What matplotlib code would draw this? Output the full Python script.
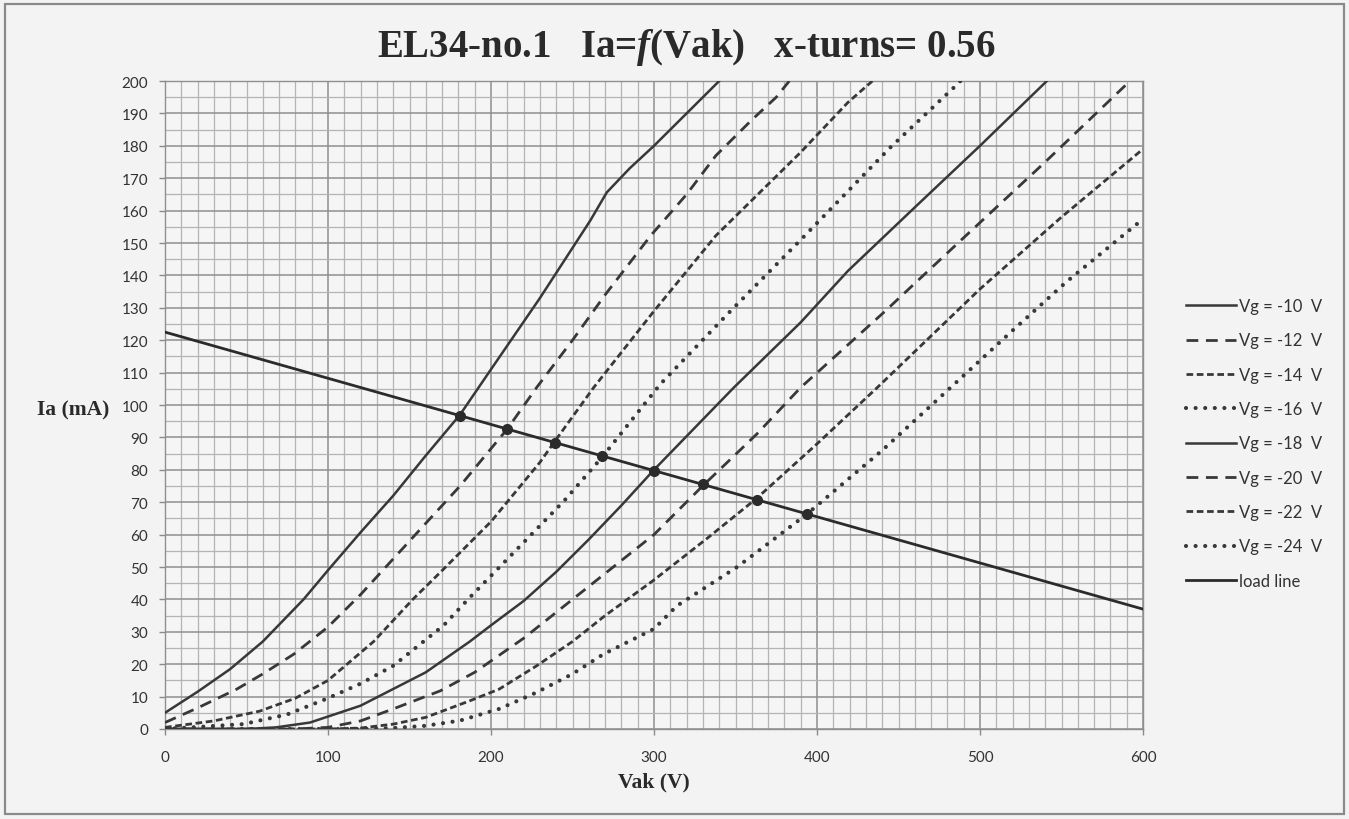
import matplotlib
matplotlib.use("Agg")
import matplotlib.pyplot as plt
from matplotlib.ticker import MultipleLocator
from matplotlib.patches import Rectangle

plt.rcParams['lines.scale_dashes'] = False
plt.rcParams['mathtext.fontset'] = 'custom'
plt.rcParams['mathtext.rm'] = 'Liberation Serif:weight=bold'
plt.rcParams['mathtext.it'] = 'Liberation Serif:style=italic:weight=bold'
plt.rcParams['mathtext.bf'] = 'Liberation Serif:weight=bold'

# Anode characteristics Ia = f(Vak) for each grid voltage
vg10_v = [0, 20, 40, 60, 85, 100, 120, 140, 160, 181, 200, 230, 261, 271, 285, 300, 320, 340]
vg10_i = [5, 11.5, 18.5, 27, 40, 49, 60.7, 72, 84.4, 97, 111, 133, 157, 165.6, 173, 180, 190, 200]

vg12_v = [0, 20, 44, 60, 79, 100, 120, 140, 160, 181, 195, 210, 228, 250, 270, 298, 320, 338, 360, 375, 383]
vg12_i = [2, 6.5, 12.3, 17, 23.1, 31.5, 41.5, 52.5, 63.5, 75, 83.5, 92.6, 105.4, 120, 134, 152.3, 165, 177, 188, 195, 200]

vg14_v = [0, 30, 58, 80, 100, 128, 152, 169, 200, 230, 239, 263, 300, 338, 390, 419, 434]
vg14_i = [0.5, 2.5, 5.5, 9.5, 15, 27, 40, 48.4, 64, 82.3, 88.7, 105.4, 129, 152.3, 178, 193.4, 200]

vg16_v = [0, 48, 75, 99, 120, 140, 171, 187, 222, 245, 268, 304, 345, 392, 419, 445, 484, 488]
vg16_i = [0, 1.5, 4.5, 9.3, 14, 19.5, 32, 40.6, 58.6, 70.5, 83.8, 106.5, 128, 152, 166, 179.5, 198, 200]

vg18_v = [0, 50, 68, 89, 120, 160, 187, 200, 220, 240, 260, 280, 300, 349, 390, 419, 460, 500, 541]
vg18_i = [0, 0, 0.5, 2, 7.2, 17.5, 27, 32, 39.5, 48.5, 58.5, 69, 80, 105.4, 125.5, 141.4, 161, 180, 200]

vg20_v = [0, 80, 100, 120, 140, 169, 190, 220, 250, 275, 300, 330, 363, 390, 441, 488, 540, 592]
vg20_i = [0, 0, 0.5, 2.5, 6.2, 11.8, 17.5, 28, 40, 50, 60, 75.1, 91, 105.4, 128.6, 150.7, 175, 200]

vg22_v = [0, 100, 120, 140, 160, 187, 205, 228, 250, 270, 300, 332, 363, 400, 437, 500, 550, 600]
vg22_i = [0, 0, 0.3, 1.5, 3.6, 8.7, 12.3, 19.5, 27, 35, 46, 58.6, 71.2, 88, 105.4, 135.8, 158, 179]

vg24_v = [0, 120, 140, 160, 181, 205, 228, 250, 269, 300, 314, 351, 371, 394, 440, 482, 520, 553, 600]
vg24_i = [0, 0, 0.3, 1, 2.6, 6.2, 11.3, 17, 23.1, 30.9, 38, 50, 57.6, 66.4, 86, 105.4, 123, 138, 157.4]

# Load line and working points on it
load_v = [0, 600]
load_i = [122.5, 37]
op_v = [181, 210, 239, 268, 300, 330, 363, 394]
op_i = [96.7, 92.6, 88.4, 84.3, 79.75, 75.5, 70.8, 66.4]

labels = ['Vg = -10  V', 'Vg = -12  V', 'Vg = -14  V', 'Vg = -16  V',
          'Vg = -18  V', 'Vg = -20  V', 'Vg = -22  V', 'Vg = -24  V']

W, H = 1349, 820
fig = plt.figure(figsize=(W / 100, H / 100), dpi=100, facecolor='#f3f3f3')
ax = fig.add_axes([165 / W, 1 - 730 / H, (1143 - 165) / W, (730 - 82) / H])
ax.set_facecolor('#f5f5f5')

ink = '#383838'
solid = dict(linestyle='-', linewidth=1.8)
long_dash = dict(linestyle=(0, (8.5, 5.5)), linewidth=2.0, dash_capstyle='butt')
short_dash = dict(linestyle=(0, (4.8, 2.6)), linewidth=2.0, dash_capstyle='butt')
round_dot = dict(linestyle=(0, (0.01, 6.9)), linewidth=3.0, dash_capstyle='round')

series = [
    (vg10_v, vg10_i, solid), (vg12_v, vg12_i, long_dash),
    (vg14_v, vg14_i, short_dash), (vg16_v, vg16_i, round_dot),
    (vg18_v, vg18_i, solid), (vg20_v, vg20_i, long_dash),
    (vg22_v, vg22_i, short_dash), (vg24_v, vg24_i, round_dot),
]
handles = []
for (v, i, st), lab in zip(series, labels):
    ln, = ax.plot(v, i, color=ink, label=lab, zorder=3, **st)
    handles.append(ln)

ld, = ax.plot(load_v, load_i, color='#2b2b2b', linewidth=2.0, label='load line', zorder=4)
handles.append(ld)
ax.plot(op_v, op_i, linestyle='none', marker='o', markersize=7, color='#2b2b2b', zorder=5)

ax.set_xlim(0, 600)
ax.set_ylim(0, 200)
ax.xaxis.set_major_locator(MultipleLocator(100))
ax.xaxis.set_minor_locator(MultipleLocator(10))
ax.yaxis.set_major_locator(MultipleLocator(10))
ax.yaxis.set_minor_locator(MultipleLocator(5))
ax.set_axisbelow(True)
ax.grid(which='major', color='#8f8f8f', linewidth=1.1)
ax.grid(which='minor', color='#b4b4b4', linewidth=0.9)
ax.tick_params(which='major', direction='out', length=4, width=1, color='#8a8a8a',
               labelsize=11, labelcolor='#333333')
ax.tick_params(axis='x', which='major', pad=11)
ax.tick_params(axis='y', which='major', pad=8)
ax.tick_params(which='minor', length=0)
for lab in ax.get_xticklabels() + ax.get_yticklabels():
    lab.set_family('Lato')
for s in ax.spines.values():
    s.set_color('#8f8f8f')
    s.set_linewidth(1.0)

fig.text(686 / W, 1 - 47 / H, r'EL34-no.1   Ia=$f$(Vak)   x-turns= 0.56',
         ha='center', va='center', fontsize=28, fontweight='bold',
         family='Liberation Serif', color='#2a2a2a')
fig.text(73 / W, 1 - 410 / H, 'Ia (mA)', ha='center', va='center', fontsize=15.5,
         fontweight='bold', family='Liberation Serif', color='#2a2a2a')
fig.text(654 / W, 1 - 782 / H, 'Vak (V)', ha='center', va='center', fontsize=15.5,
         fontweight='bold', family='Liberation Serif', color='#2a2a2a')

leg = fig.legend(handles=handles, loc='upper left', bbox_to_anchor=(1186 / W, 1 - 299 / H),
                 frameon=False, prop={'family': 'Lato', 'size': 12}, handlelength=3.0,
                 handletextpad=0.2, labelspacing=1.1, borderpad=0, borderaxespad=0)
for t in leg.get_texts():
    t.set_color('#333333')

fig.patches.append(Rectangle((5 / W, 5 / H), (W - 10) / W, (H - 10) / H,
                             transform=fig.transFigure, fill=False,
                             edgecolor='#8a8a8a', linewidth=1.6))

fig.savefig('out.png', dpi=100, facecolor=fig.get_facecolor())
